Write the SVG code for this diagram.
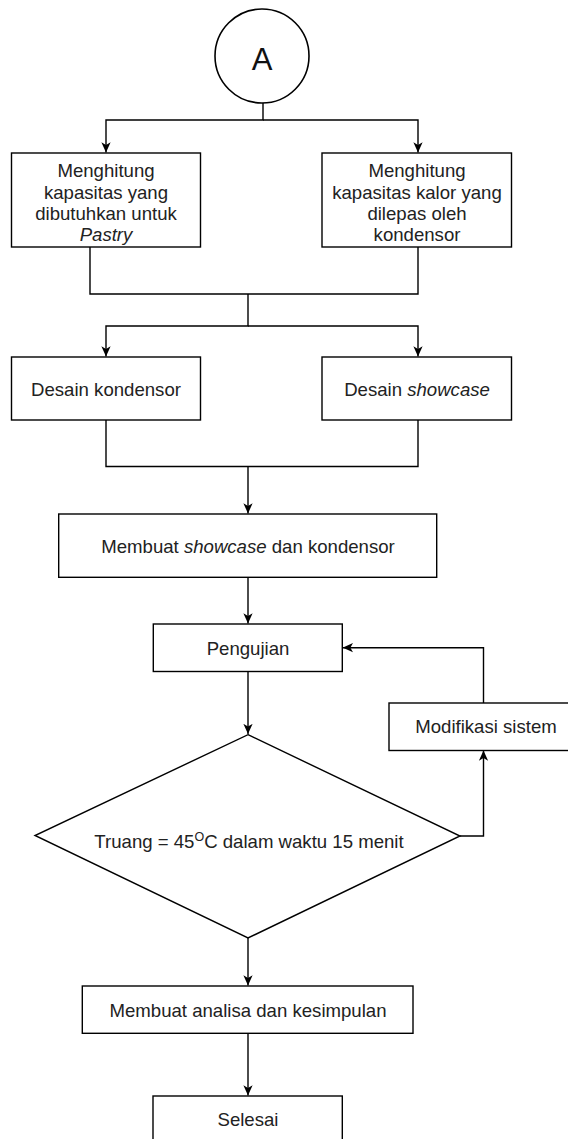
<svg xmlns="http://www.w3.org/2000/svg" width="568" height="1139" viewBox="0 0 568 1139">
<style>
.box{fill:#fff;stroke:#000;stroke-width:1.4}
.ln{fill:none;stroke:#000;stroke-width:1.4}
.t{font-family:"Liberation Sans",Helvetica,Arial,sans-serif;font-size:18.6px;fill:#222;text-anchor:middle}
.i{font-style:italic}
</style>
<defs>
<marker id="arr" viewBox="0 0 10 10" refX="10" refY="5" markerWidth="10.5" markerHeight="10.5" markerUnits="userSpaceOnUse" orient="auto">
<path d="M0.3,0.6 L10,5 L0.3,9.4 L2.8,5 z" fill="#000"/>
</marker>
</defs>
<rect width="568" height="1139" fill="#fff"/>
<g id="connectors">
<path class="ln" d="M263,103 V120 H106 V152.5" marker-end="url(#arr)"/>
<path class="ln" d="M263,120 H418 V152.5" marker-end="url(#arr)"/>
<path class="ln" d="M90,247 V294 H418 V247"/>
<path class="ln" d="M248,294 V326 H106 V356.5" marker-end="url(#arr)"/>
<path class="ln" d="M248,326 H418 V356.5" marker-end="url(#arr)"/>
<path class="ln" d="M106,420 V466.5 H418 V420"/>
<path class="ln" d="M248,466.5 V513.5" marker-end="url(#arr)"/>
<path class="ln" d="M248,577.5 V623.5" marker-end="url(#arr)"/>
<path class="ln" d="M248,671.5 V734" marker-end="url(#arr)"/>
<path class="ln" d="M460,836 H483.5 V750.5" marker-end="url(#arr)"/>
<path class="ln" d="M483.5,703 V647.7 H342.8" marker-end="url(#arr)"/>
<path class="ln" d="M248,938 V985.5" marker-end="url(#arr)"/>
<path class="ln" d="M248,1033.5 V1095.5" marker-end="url(#arr)"/>
</g>
<g id="nodeA">
<circle cx="262" cy="56" r="47" fill="#fff" stroke="#000" stroke-width="1.6"/>
<text x="262" y="70" style="font-family:'Liberation Sans',Arial,sans-serif;font-size:31px;fill:#111;text-anchor:middle">A</text>
</g>
<g id="n1">
<rect class="box" x="11.5" y="153" width="189" height="94"/>
<text class="t" x="106" y="177">Menghitung</text>
<text class="t" x="106" y="198.5">kapasitas yang</text>
<text class="t" x="106" y="220">dibutuhkan untuk</text>
<text class="t i" x="106" y="241">Pastry</text>
</g>
<g id="n2">
<rect class="box" x="322" y="153" width="189.5" height="94"/>
<text class="t" x="417" y="177">Menghitung</text>
<text class="t" x="417" y="198.5">kapasitas kalor yang</text>
<text class="t" x="417" y="220">dilepas oleh</text>
<text class="t" x="417" y="241">kondensor</text>
</g>
<g id="n3">
<rect class="box" x="11.5" y="357" width="189" height="63"/>
<text class="t" x="106" y="396">Desain kondensor</text>
</g>
<g id="n4">
<rect class="box" x="322" y="357" width="189.5" height="63"/>
<text class="t" x="417" y="396">Desain <tspan class="i">showcase</tspan></text>
</g>
<g id="n5">
<rect class="box" x="58.7" y="514" width="378" height="63.3"/>
<text class="t" x="248" y="553">Membuat <tspan class="i">showcase</tspan> dan kondensor</text>
</g>
<g id="n6">
<rect class="box" x="153.3" y="624" width="189" height="47.5"/>
<text class="t" x="248" y="655">Pengujian</text>
</g>
<g id="n7">
<rect class="box" x="389" y="703" width="190" height="47.5"/>
<text class="t" x="486" y="733">Modifikasi sistem</text>
</g>
<g id="n8">
<polygon class="box" points="248,734.7 460,836 248,938 35,835.5"/>
<text class="t" x="249" y="847.5">Truang = 45<tspan dy="-7" font-size="12.5">O</tspan><tspan dy="7">C dalam waktu 15 menit</tspan></text>
</g>
<g id="n9">
<rect class="box" x="82.3" y="986" width="330.7" height="47.3"/>
<text class="t" x="248" y="1016.5">Membuat analisa dan kesimpulan</text>
</g>
<g id="n10">
<rect class="box" x="153" y="1096" width="189.3" height="60"/>
<text class="t" x="248" y="1126">Selesai</text>
</g>
</svg>
